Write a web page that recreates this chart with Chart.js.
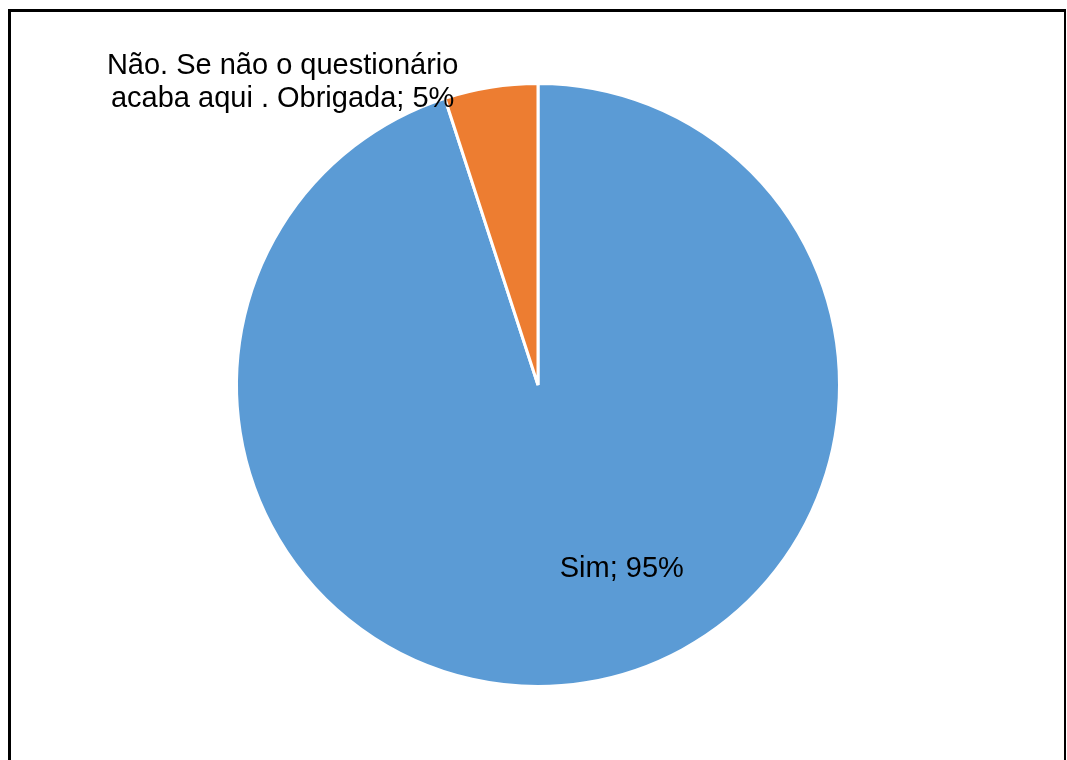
<!DOCTYPE html>
<html>
<head>
<meta charset="utf-8">
<script src="https://cdn.jsdelivr.net/npm/chart.js@4.4.0/dist/chart.umd.min.js"></script>
<style>
    html, body { margin: 0; padding: 0; background: #fff; overflow: hidden; }
    #chart { position: absolute; left: 0; top: 0; }
    #frame {
        position: absolute; left: 8px; top: 9px;
        width: 1053px; height: 800px;
        border-left: 3px solid #000;
        border-top: 3px solid #000;
        border-right: 2px solid #000;
        pointer-events: none;
    }
</style>
</head>
<body>
<canvas id="chart" width="1067" height="760"></canvas>
<div id="frame"></div>
<script>
    // dados do gráfico
    var categorias = ['Sim', 'Não. Se não o questionário acaba aqui . Obrigada'];
    var percentuais = [95, 5];
    var cores = ['#5B9BD5', '#ED7D31'];

    // posição de cada rótulo, relativa ao centro do gráfico (em raios)
    var posRotulos = [
        { dx: 0.278, dy: 0.636 },
        { dx: -0.847, dy: -1.032 }
    ];

    function quebrarTexto(ctx, texto, largura) {
        var palavras = texto.split(' ');
        var linhas = [];
        var atual = '';
        palavras.forEach(function (p) {
            var teste = atual ? atual + ' ' + p : p;
            if (atual && ctx.measureText(teste).width > largura) {
                linhas.push(atual);
                atual = p;
            } else {
                atual = teste;
            }
        });
        if (atual) linhas.push(atual);
        return linhas;
    }

    // rótulos "categoria; valor%"
    var rotulosPlugin = {
        id: 'rotulos',
        afterDatasetsDraw: function (chart) {
            var ctx = chart.ctx;
            var arcs = chart.getDatasetMeta(0).data;
            ctx.save();
            ctx.font = '29px "Liberation Sans", Arial, sans-serif';
            ctx.fillStyle = '#000';
            ctx.textAlign = 'center';
            ctx.textBaseline = 'alphabetic';
            arcs.forEach(function (arc, i) {
                var r = arc.outerRadius;
                var x = arc.x + posRotulos[i].dx * r;
                var y = arc.y + posRotulos[i].dy * r;
                var texto = categorias[i] + '; ' + percentuais[i] + '%';
                var linhas = quebrarTexto(ctx, texto, 370);
                linhas.forEach(function (l, k) {
                    ctx.fillText(l, x, y + k * 33);
                });
            });
            ctx.restore();
        }
    };

    var config = {
        type: 'pie',
        data: {
            labels: categorias,
            datasets: [{
                data: percentuais,
                backgroundColor: cores,
                borderColor: '#fff',
                borderWidth: 3
            }]
        },
        options: {
            responsive: false,
            animation: false,
            layout: {
                padding: { left: 235, right: 226, top: 82, bottom: 72 }
            },
            plugins: {
                legend: { display: false },
                tooltip: { enabled: false }
            }
        },
        plugins: [rotulosPlugin]
    };

    var chart = new Chart(document.getElementById('chart'), config);
</script>
</body>
</html>
